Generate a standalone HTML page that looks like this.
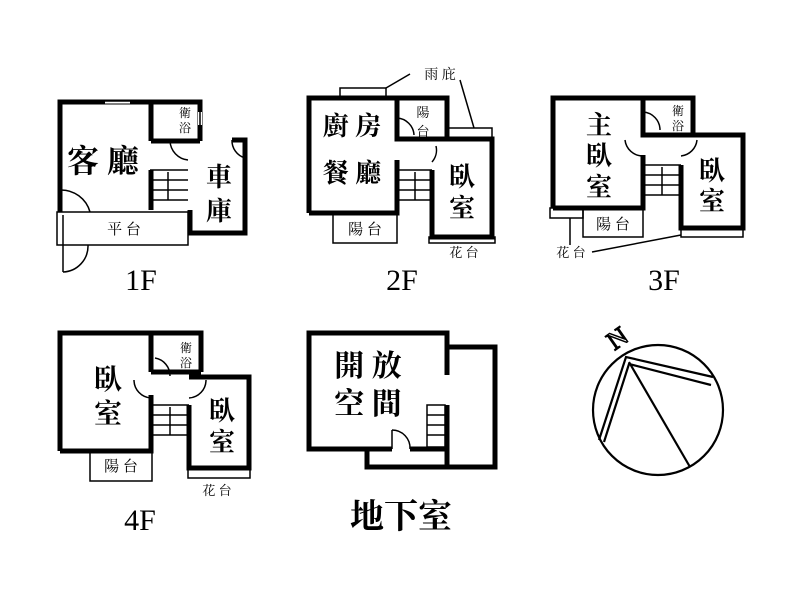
<!DOCTYPE html>
<html><head><meta charset="utf-8"><style>
html,body{margin:0;padding:0;background:#fff}
svg{display:block}
.t{font-family:"Liberation Serif","Noto Serif CJK SC","Noto Sans CJK TC",serif;fill:#000;text-anchor:middle}
.b{font-weight:bold}
</style></head><body>
<svg width="800" height="599" viewBox="0 0 800 599" xmlns="http://www.w3.org/2000/svg">
<g fill="none" stroke="#000">
<!-- 1F -->
<g stroke-width="5">
<polyline points="60,212 60,102 200,102 200,141"/>
<polyline points="151,102 151,141"/>
<polyline points="151,141 200,141"/>
<polyline points="190,210 190,233 245,233 245,140 232,140"/>
<polyline points="151,170 151,210"/>
</g>
<g stroke-width="1.5">
<rect x="57" y="212" width="131" height="33"/>
<polyline points="63,215 63,245"/>
<path d="M60,190 A30,30 0 0 1 90,212"/>
<path d="M88,245 A26,26 0 0 1 63,272"/>
<line x1="63" y1="245" x2="63" y2="272"/>
<line x1="150" y1="170" x2="188" y2="170"/><line x1="150" y1="180" x2="188" y2="180"/><line x1="150" y1="190" x2="188" y2="190"/><line x1="150" y1="200" x2="188" y2="200"/>
<line x1="168" y1="172" x2="168" y2="200"/>
<path d="M170,141 A20,20 0 0 0 188,160"/>
<path d="M232,140 A18,18 0 0 0 245,158"/>
<line x1="105" y1="102" x2="130" y2="102" stroke="#fff" stroke-width="3"/>
<line x1="105" y1="101" x2="130" y2="101"/>
<line x1="200" y1="112" x2="200" y2="125" stroke="#fff" stroke-width="4"/>
<line x1="200" y1="112" x2="200" y2="125"/>
</g>
<!-- 2F -->
<g stroke-width="5">
<polyline points="309,213 309,98 397,98 397,139 432,139 492,139 492,237 432,237 432,170"/>
<polyline points="397,98 447,98 447,139"/>
<polyline points="397,160 397,213 309,213"/>
</g>
<g stroke-width="1.5">
<rect x="340" y="88" width="46" height="10"/>
<rect x="447" y="128" width="45" height="11"/>
<rect x="333" y="213" width="64" height="30"/>
<rect x="429" y="237" width="66" height="6"/>
<polyline points="386,88 410,74"/><polyline points="460,80 474,128"/>
<line x1="397" y1="170" x2="432" y2="170"/><line x1="397" y1="180" x2="432" y2="180"/><line x1="397" y1="190" x2="432" y2="190"/><line x1="397" y1="200" x2="432" y2="200"/>
<line x1="415" y1="172" x2="415" y2="200"/>
<path d="M397,118 A18,18 0 0 1 414,135"/>
<path d="M436,146 A18,18 0 0 1 432,162"/>
</g>
<!-- 3F -->
<g stroke-width="5">
<polyline points="553,208 553,98 693,98 693,135"/>
<polyline points="643,98 643,135 693,135"/>
<polyline points="681,135 743,135 743,228 681,228 681,165"/>
<polyline points="643,155 643,208 553,208"/>
</g>
<g stroke-width="1.5">
<rect x="583" y="208" width="60" height="29"/>
<rect x="550" y="208" width="33" height="10"/>
<rect x="681" y="228" width="62" height="9"/>
<polyline points="570,218 570,245"/><polyline points="592,252 681,235"/>
<line x1="643" y1="165" x2="681" y2="165"/><line x1="643" y1="175" x2="681" y2="175"/><line x1="643" y1="185" x2="681" y2="185"/><line x1="643" y1="195" x2="681" y2="195"/>
<line x1="662" y1="167" x2="662" y2="195"/>
<path d="M625,140 A18,18 0 0 0 643,156"/>
<path d="M643,112 A18,18 0 0 1 660,130"/>
<path d="M697,140 A18,18 0 0 1 681,156"/>
</g>
<!-- 4F -->
<g stroke-width="5">
<polyline points="60,451 60,333 201,333 201,372"/>
<polyline points="151,333 151,372"/><polyline points="151,372 201,372"/>
<polyline points="189,377 249,377 249,468 189,468 189,405"/>
<polyline points="151,395 151,451 60,451"/>
</g>
<g stroke-width="1.5">
<rect x="90" y="451" width="62" height="30"/>
<rect x="188" y="468" width="62" height="10"/>
<line x1="151" y1="405" x2="189" y2="405"/><line x1="151" y1="415" x2="189" y2="415"/><line x1="151" y1="425" x2="189" y2="425"/><line x1="151" y1="435" x2="189" y2="435"/>
<line x1="170" y1="407" x2="170" y2="435"/>
<path d="M134,380 A18,18 0 0 0 151,398"/>
<path d="M155,358 A18,18 0 0 1 170,376"/>
<path d="M206,380 A18,18 0 0 1 189,398"/>
</g>
<!-- Basement -->
<g stroke-width="5">
<polyline points="447,375 447,333 309,333 309,449 392,449"/>
<polyline points="410,449 447,449"/>
<polyline points="447,405 447,467"/>
<polyline points="447,347 495,347 495,467 367,467 367,449"/>
</g>
<g stroke-width="1.5">
<rect x="427" y="405" width="18" height="42"/>
<line x1="427" y1="415" x2="445" y2="415"/><line x1="427" y1="425" x2="445" y2="425"/><line x1="427" y1="435" x2="445" y2="435"/>
<path d="M392,430 A18,18 0 0 1 410,449"/><line x1="392" y1="430" x2="392" y2="449"/>
</g>
<!-- Compass -->
<g stroke-width="2.2">
<circle cx="658" cy="410" r="65"/>
<polyline points="713,377 626,357 599,440"/>
<polyline points="711,385 629,364 604,442"/>
<line x1="629" y1="362" x2="690" y2="467"/>
</g>
</g>
<text class="t" x="617" y="347" font-size="26" transform="rotate(-35 617 338)" stroke="#000" stroke-width="1.5" style="fill:#fff">N</text>
<!-- texts -->
<text class="t b" x="103" y="172" font-size="32">客 廳</text>
<text class="t b" x="219" y="186" font-size="26">車</text><text class="t b" x="219" y="220" font-size="26">庫</text>
<text class="t" x="124" y="234" font-size="15">平 台</text>
<text class="t" x="185" y="117" font-size="12">衛</text><text class="t" x="185" y="132" font-size="12">浴</text>
<text class="t" x="141" y="290" font-size="30">1F</text>
<text class="t b" x="352" y="135" font-size="26">廚 房</text>
<text class="t b" x="352" y="182" font-size="26">餐 廳</text>
<text class="t" x="423" y="117" font-size="13">陽</text><text class="t" x="423" y="136" font-size="13">台</text>
<text class="t b" x="462" y="186" font-size="26">臥</text><text class="t b" x="462" y="217" font-size="26">室</text>
<text class="t" x="365" y="234" font-size="15">陽 台</text>
<text class="t" x="464" y="257" font-size="13">花 台</text>
<text class="t" x="440" y="79" font-size="14">雨 庇</text>
<text class="t" x="402" y="290" font-size="30">2F</text>
<text class="t b" x="599" y="134" font-size="26">主</text><text class="t b" x="599" y="165" font-size="26">臥</text><text class="t b" x="599" y="196" font-size="26">室</text>
<text class="t b" x="712" y="180" font-size="26">臥</text><text class="t b" x="712" y="210" font-size="26">室</text>
<text class="t" x="613" y="229" font-size="15">陽 台</text>
<text class="t" x="678" y="115" font-size="12">衛</text><text class="t" x="678" y="130" font-size="12">浴</text>
<text class="t" x="571" y="257" font-size="13">花 台</text>
<text class="t" x="664" y="290" font-size="30">3F</text>
<text class="t b" x="108" y="389" font-size="28">臥</text><text class="t b" x="108" y="423" font-size="28">室</text>
<text class="t b" x="222" y="420" font-size="26">臥</text><text class="t b" x="222" y="451" font-size="26">室</text>
<text class="t" x="121" y="471" font-size="15">陽 台</text>
<text class="t" x="186" y="352" font-size="12">衛</text><text class="t" x="186" y="367" font-size="12">浴</text>
<text class="t" x="217" y="495" font-size="13">花 台</text>
<text class="t" x="140" y="530" font-size="30">4F</text>
<text class="t b" x="368" y="376" font-size="30">開 放</text>
<text class="t b" x="368" y="414" font-size="30">空 間</text>
<text class="t b" x="401" y="528" font-size="34">地下室</text>
</svg>
</body></html>
